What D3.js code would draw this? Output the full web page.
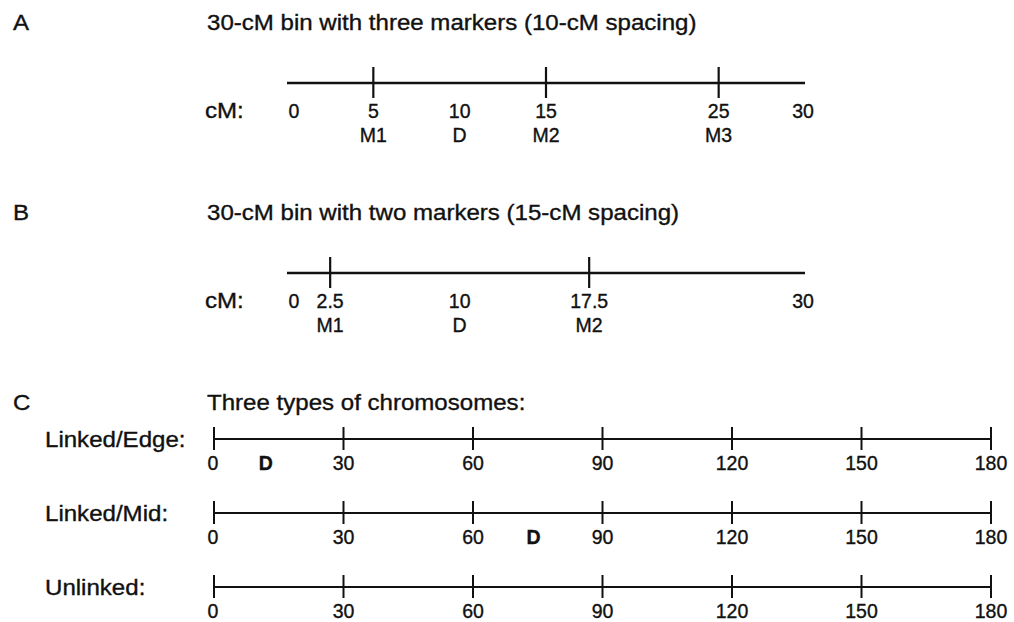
<!DOCTYPE html>
<html>
<head>
<meta charset="utf-8">
<script src="https://cdn.jsdelivr.net/npm/d3@7"></script>
<style>
  body { margin: 0; background: #fff; }
  svg text { font-family: "Liberation Sans", Arial, sans-serif; fill: #111; stroke: #111; stroke-width: 0.35; }
</style>
</head>
<body>
<svg id="chart" width="1014" height="622"></svg>
<script>
// bin panels (A and B)
const BIN_ENDS = [0, 30];
const DISEASE_LOCUS = 10;
const binTitles = [
  "30-cM bin with three markers (10-cM spacing)",
  "30-cM bin with two markers (15-cM spacing)"
];
const markersA = [5, 15, 25];
const markerNamesA = ["M1", "M2", "M3"];
const markersB = [2.5, 17.5];
const markerNamesB = ["M1", "M2"];

// chromosome panel (C)
const chromTitle = "Three types of chromosomes:";
const chromTicks = [0, 30, 60, 90, 120, 150, 180];
const chromTypes = ["Linked/Edge:", "Linked/Mid:", "Unlinked:"];
const chromDisease = [12, 74, null];

const SX = 1.12; // wide lettering of the scanned figure
const svg = d3.select("#chart");

const word = (x, y, str, weight) =>
  svg.append("text")
    .attr("transform", `translate(${x},${y}) scale(${SX},1)`)
    .attr("font-size", 21.5)
    .attr("font-weight", weight || "normal")
    .text(str);

const num = (x, y, str, anchor, weight) =>
  svg.append("text")
    .attr("x", x)
    .attr("y", y)
    .attr("text-anchor", anchor || "middle")
    .attr("font-size", 19.5)
    .attr("font-weight", weight || "normal")
    .text(str);

const drawBin = (letter, title, top, lineY, markers, names) => {
  word(13, top, letter);
  word(207, top, title);

  const x = d3.scaleLinear().domain(BIN_ENDS).range([287, 805]);

  svg.append("line")
    .attr("x1", x(BIN_ENDS[0])).attr("x2", x(BIN_ENDS[1]))
    .attr("y1", lineY).attr("y2", lineY)
    .attr("stroke", "#111").attr("stroke-width", 2.6);

  svg.selectAll(null).data(markers).enter()
    .append("line")
    .attr("x1", d => x(d)).attr("x2", d => x(d))
    .attr("y1", lineY - 16).attr("y2", lineY + 15)
    .attr("stroke", "#111").attr("stroke-width", 2.2);

  word(205, lineY + 35, "cM:");

  const values = [BIN_ENDS[0], ...markers, DISEASE_LOCUS, BIN_ENDS[1]].sort((a, b) => a - b);
  values.forEach(v => {
    const nudge = v === BIN_ENDS[0] ? 7 : v === BIN_ENDS[1] ? -2 : 0;
    num(x(v) + nudge, lineY + 35, String(v));
  });

  markers.forEach((m, i) => num(x(m), lineY + 59, names[i]));
  num(x(DISEASE_LOCUS), lineY + 59, "D");
};

drawBin("A", binTitles[0], 30, 83, markersA, markerNamesA);
drawBin("B", binTitles[1], 220, 273, markersB, markerNamesB);

// panel C
word(13, 410, "C");
word(207, 410, chromTitle);

const xc = d3.scaleLinear().domain([chromTicks[0], chromTicks[chromTicks.length - 1]]).range([214, 991]);
const yc = d3.scaleLinear().domain([0, chromTypes.length - 1]).range([439, 587]);

chromTypes.forEach((name, i) => {
  const y = yc(i);
  word(45, y + 8, name);

  svg.append("line")
    .attr("x1", xc.range()[0]).attr("x2", xc.range()[1])
    .attr("y1", y).attr("y2", y)
    .attr("stroke", "#111").attr("stroke-width", 1.8);

  svg.selectAll(null).data(chromTicks).enter()
    .append("line")
    .attr("x1", d => xc(d)).attr("x2", d => xc(d))
    .attr("y1", y - 12).attr("y2", y + 11)
    .attr("stroke", "#111").attr("stroke-width", 2);

  chromTicks.forEach(t => num(xc(t) + (t === 0 ? -1 : 0), y + 31, String(t)));

  if (chromDisease[i] !== null) {
    num(xc(chromDisease[i]), y + 31, "D", "middle", "bold");
  }
});
</script>
</body>
</html>
